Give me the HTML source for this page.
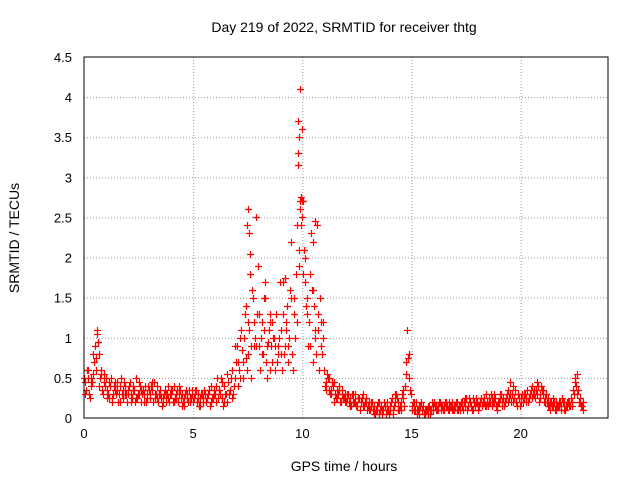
<!DOCTYPE html>
<html><head><meta charset="utf-8"><style>
body{margin:0;background:#fff}
svg{display:block;font-family:"Liberation Sans",sans-serif}
</style></head><body>
<svg id="chart" width="640" height="480" viewBox="0 0 640 480">
<text x="344" y="32" text-anchor="middle" font-size="14">Day 219 of 2022, SRMTID for receiver thtg</text>
<text x="344" y="471" text-anchor="middle" font-size="14">GPS time / hours</text>
<text transform="translate(19,238) rotate(-90)" text-anchor="middle" font-size="14">SRMTID / TECUs</text>
<g id="grid"></g>
<g id="ticks"></g>
<g id="marks"></g>
<rect x="84" y="57" width="524" height="361" fill="none" stroke="#000" stroke-width="1"/>
</svg>
<script>
const xTicks=[0,5,10,15,20];
const yTicks=[0,0.5,1,1.5,2,2.5,3,3.5,4,4.5];
const yTickLabels=["0","0.5","1","1.5","2","2.5","3","3.5","4","4.5"];
const seriesA=[0.5,0.35,0.6,0.4,0.55,0.9,1.05,0.8,0.6,0.45,
0.5,0.3,0.4,0.25,0.35,0.45,0.3,0.5,0.35,0.4,
0.3,0.45,0.25,0.35,0.5,0.3,0.2,0.35,0.4,0.3,
0.25,0.35,0.45,0.3,0.2,0.3,0.25,0.35,0.3,0.2,
0.3,0.4,0.25,0.2,0.35,0.3,0.15,0.3,0.35,0.25,
0.2,0.3,0.25,0.15,0.3,0.35,0.2,0.3,0.4,0.25,
0.3,0.5,0.35,0.25,0.4,0.3,0.45,0.35,0.6,0.5,
0.9,0.6,1.1,0.7,1.4,0.8,2.05,1.6,1.2,0.9,
1.3,1.0,0.8,1.5,0.9,1.2,0.7,1.0,1.3,0.8,
1.1,1.7,0.9,1.4,1.0,2.2,1.3,1.8,3.15,4.1,
2.7,2.0,1.5,1.2,2.3,1.6,1.0,1.3,1.5,0.8,
0.6,0.45,0.5,0.35,0.4,0.3,0.25,0.35,0.3,0.25,
0.2,0.3,0.25,0.2,0.3,0.15,0.25,0.2,0.3,0.2,
0.15,0.1,0.2,0.15,0.1,0.2,0.15,0.1,0.15,0.2,
0.1,0.25,0.15,0.3,0.2,0.1,0.25,0.4,1.1,0.5,
0.15,0.1,0.2,0.1,0.15,0.1,0.05,0.1,0.15,0.1,
0.1,0.15,0.1,0.2,0.15,0.1,0.15,0.2,0.15,0.1,
0.15,0.2,0.1,0.15,0.2,0.25,0.15,0.2,0.25,0.15,
0.2,0.15,0.25,0.2,0.3,0.15,0.2,0.25,0.2,0.15,
0.2,0.3,0.25,0.2,0.35,0.45,0.3,0.25,0.2,0.3,
0.25,0.2,0.3,0.35,0.25,0.4,0.3,0.35,0.4,0.3,
0.35,0.25,0.2,0.15,0.2,0.15,0.2,0.15,0.2,0.25,
0.2,0.15,0.2,0.25,0.35,0.5,0.55,0.25,0.15];
const seriesB=[0.3,0.5,0.25,0.45,0.7,0.6,0.4,0.55,0.3,0.4,
0.25,0.45,0.2,0.4,0.3,0.2,0.4,0.25,0.3,0.2,
0.4,0.2,0.35,0.25,0.3,0.4,0.3,0.2,0.25,0.35,
0.4,0.2,0.3,0.25,0.35,0.15,0.3,0.2,0.25,0.35,
0.2,0.25,0.35,0.3,0.15,0.25,0.35,0.2,0.25,0.3,
0.35,0.2,0.15,0.3,0.25,0.2,0.3,0.15,0.25,0.35,
0.2,0.35,0.5,0.15,0.3,0.2,0.35,0.25,0.4,0.7,
0.4,1.0,0.5,1.3,0.6,1.1,0.5,0.9,2.5,1.9,
0.6,1.2,1.5,0.5,1.1,0.9,1.0,0.6,0.9,1.7,
0.6,0.8,1.2,0.7,1.5,0.6,1.0,2.4,1.9,3.6,
2.1,1.4,0.9,1.8,0.7,1.1,2.4,0.6,1.2,1.0,
0.35,0.5,0.3,0.45,0.2,0.35,0.4,0.2,0.25,0.3,
0.3,0.15,0.3,0.2,0.15,0.25,0.2,0.15,0.2,0.1,
0.2,0.15,0.05,0.1,0.2,0.1,0.05,0.15,0.1,0.05,
0.2,0.1,0.3,0.1,0.15,0.3,0.15,0.7,0.8,0.3,
0.2,0.1,0.05,0.15,0.1,0.05,0.1,0.15,0.05,0.15,
0.15,0.1,0.2,0.1,0.15,0.2,0.1,0.15,0.1,0.15,
0.1,0.15,0.2,0.1,0.25,0.15,0.2,0.1,0.2,0.25,
0.15,0.25,0.2,0.15,0.2,0.25,0.15,0.3,0.15,0.2,
0.25,0.15,0.2,0.3,0.25,0.2,0.4,0.2,0.3,0.15,
0.3,0.25,0.2,0.25,0.35,0.3,0.25,0.45,0.25,0.35,
0.2,0.3,0.15,0.2,0.25,0.1,0.15,0.2,0.15,0.1,
0.15,0.2,0.15,0.2,0.45,0.3,0.2,0.15,0.2];
const seriesC=[0.45,0.6,0.3,0.5,0.8,0.75,0.95,0.5,0.35,0.55,
0.35,0.25,0.5,0.3,0.45,0.35,0.2,0.3,0.45,0.3,
0.35,0.3,0.4,0.2,0.25,0.45,0.35,0.3,0.2,0.4,
0.3,0.45,0.25,0.4,0.3,0.25,0.2,0.3,0.4,0.3,
0.35,0.2,0.3,0.4,0.25,0.2,0.3,0.25,0.2,0.35,
0.25,0.35,0.3,0.25,0.2,0.3,0.25,0.35,0.2,0.3,
0.4,0.25,0.3,0.45,0.2,0.55,0.3,0.5,0.3,0.9,
0.7,0.5,0.85,1.0,0.75,1.2,0.9,1.5,1.0,1.3,
0.9,0.8,1.1,0.7,0.95,0.6,1.2,0.9,0.7,1.0,
0.8,1.3,1.1,0.9,1.6,0.8,1.5,1.2,2.1,2.75,
1.8,1.7,1.3,0.9,1.6,1.4,0.8,1.1,0.9,1.2,
0.4,0.55,0.35,0.3,0.45,0.25,0.3,0.2,0.35,0.2,
0.25,0.2,0.15,0.3,0.2,0.25,0.1,0.25,0.15,0.25,
0.1,0.2,0.1,0.05,0.15,0.05,0.1,0.2,0.05,0.1,
0.15,0.05,0.2,0.25,0.1,0.2,0.35,0.55,0.75,0.35,
0.1,0.2,0.1,0.05,0.2,0.15,0.1,0.05,0.1,0.2,
0.2,0.1,0.15,0.15,0.1,0.2,0.15,0.1,0.2,0.1,
0.2,0.1,0.15,0.2,0.15,0.1,0.25,0.15,0.1,0.2,
0.1,0.2,0.15,0.25,0.15,0.2,0.3,0.2,0.25,0.1,
0.3,0.2,0.15,0.25,0.2,0.3,0.2,0.35,0.15,0.25,
0.2,0.3,0.25,0.2,0.3,0.25,0.35,0.3,0.2,0.4,
0.3,0.2,0.25,0.1,0.15,0.2,0.1,0.15,0.1,0.2,
0.1,0.2,0.15,0.15,0.3,0.4,0.35,0.2,0.1];
const extraTimes=[9.8,9.8,9.85,9.9,9.9,9.95,10.0,10.05,7.45,7.5,7.55,7.6,8.3,8.5,10.6,10.5,9.2,0.6,0.65];
const extraValues=[3.7,3.3,3.5,2.7,2.6,2.4,2.5,2.7,2.4,2.6,2.3,1.8,1.7,1.3,2.45,2.2,1.75,1.1,0.95];

const X0=84,X1=608,Y0=418,Y1=57;
const xs=t=>X0+t/24*(X1-X0);
const ys=v=>Y0-v/4.5*(Y0-Y1);
const NS="http://www.w3.org/2000/svg";
const grid=document.getElementById('grid'),ticks=document.getElementById('ticks'),marks=document.getElementById('marks');
function el(tag,attrs,parent){const e=document.createElementNS(NS,tag);for(const k in attrs)e.setAttribute(k,attrs[k]);parent.appendChild(e);return e;}
xTicks.forEach(t=>{
  const x=xs(t)+0.5;
  if(t>0){const g=el('line',{x1:x,x2:x,y1:Y1,y2:Y0,stroke:'#999','stroke-dasharray':'1,2'},grid);
  
  }
  const l=el('text',{x:xs(t),y:Y0+20,'text-anchor':'middle','font-size':13},ticks);
  
  
  l.textContent=t;
});
yTicks.forEach((v,i)=>{
  const y=ys(v)+0.5;
  if(v>0&&v<4.5){const g=el('line',{x1:X0,x2:X1,y1:y,y2:y,stroke:'#999','stroke-dasharray':'1,2'},grid);
  
  }
  const l=el('text',{x:X0-12,y:ys(v)+5,'text-anchor':'end','font-size':13},ticks);
  
  
  l.textContent=yTickLabels[i];
});
function plus(t,v,color){
  const x=Math.round(xs(t))+0.5,y=Math.round(ys(v))+0.5;
  const p=el('path',{d:`M${x-3.5},${y}H${x+3.5}M${x},${y-3.5}V${y+3.5}`,stroke:color,'stroke-width':1.2,fill:'none'},marks);
  
  
}
seriesC.forEach((v,i)=>plus(i/10+0.033,v,'#ff0000'));
seriesB.forEach((v,i)=>plus(i/10+0.066,v,'#ff0000'));
seriesA.forEach((v,i)=>plus(i/10,v,'#ff0000'));
extraTimes.forEach((t,i)=>plus(t,extraValues[i],'#ff0000'));
</script>
</body></html>
